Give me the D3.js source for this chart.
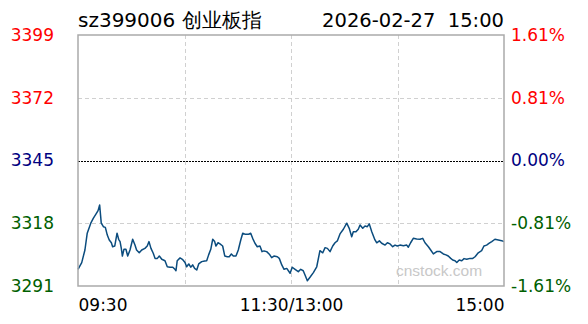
<!DOCTYPE html>
<html>
<head>
<meta charset="utf-8">
<script src="https://cdn.jsdelivr.net/npm/d3@7/dist/d3.min.js"></script>
<style>
  body { margin: 0; background: #fff; }
  svg { display: block; }
</style>
</head>
<body>
<svg width="588" height="324"></svg>
<script>
// sz399006 intraday, prev close 3345
const preClose = 3345;
const titleText = "sz399006 创业板指";
const dateText = "2026-02-27  15:00";

// levels in % of prev close, top to bottom
const pctLevels = [1.61, 0.805, 0, -0.805, -1.61];
const priceLabels = ["3399", "3372", "3345", "3318", "3291"];
const pctLabels = ["1.61%", "0.81%", "0.00%", "-0.81%", "-1.61%"];

const timeTickMins = [0, 120, 240];
const timeLabels = ["09:30", "11:30/13:00", "15:00"];
const gridMins = [60, 120, 180];

// minutes after open (lunch break removed) and index value
const mins = [0, 2.1, 3.9, 5.2, 7.2, 8.6, 10.1, 11.3, 12.2, 13.1, 14.3, 15.4, 16.5, 17.6, 18.8, 19.5, 20.7, 22.0, 22.9, 23.7,
  24.4, 25.0, 25.9, 27.0, 28.0, 29.3, 30.8, 32.1, 33.0, 34.5, 35.9, 37.7, 39.0, 40.0, 41.1, 42.4, 43.4, 44.7, 45.8, 47.2,
  49.0, 50.3, 51.8, 53.4, 54.6, 55.2, 55.9, 57.5, 58.8, 60.3, 61.2, 62.4, 63.5, 64.6, 65.7, 66.9, 68.0, 69.7, 71.4, 72.5,
  73.6, 74.8, 75.9, 77.0, 77.7, 78.9, 80.0, 81.5, 82.7, 84.1, 85.2, 86.4, 87.5, 89.0, 90.3, 91.7, 92.8, 94.3, 95.9, 97.3,
  98.4, 99.7, 101.0, 102.5, 103.7, 104.8, 106.3, 107.8, 109.1, 110.4, 112.3, 113.4, 114.8, 116.1, 117.6,
  119.5, 120.7, 122.3, 124.1, 125.5, 126.9, 127.9, 129.2, 130.7, 132.6, 134.5, 136.3, 137.9, 139.2, 140.5, 142.0,
  143.5, 144.8, 146.1, 147.6, 149.5, 151.4, 152.8, 154.2, 155.1, 156.6, 157.9, 158.9, 160.4, 161.7, 163.0, 164.1,
  165.5, 167.3, 168.3, 169.8, 171.1, 173.0, 174.3, 175.8, 177.3, 178.6, 179.9, 181.4, 183.3, 185.2, 186.1, 187.4,
  188.9, 190.8, 192.7, 194.2, 195.5, 197.4, 198.7, 200.2, 202.1, 204.0, 205.8, 207.3, 208.6, 210.0, 211.1, 212.4,
  213.4, 214.8, 216.2, 217.5, 219.0, 220.9, 222.4, 223.7, 225.5, 227.4, 228.7, 230.2, 231.7, 233.1, 234.9, 236.8,
  238.7, 240];
const prices = [3298.3, 3301.2, 3306.6, 3313.8, 3318.1, 3320.2, 3322.0, 3323.5, 3325.9, 3318.1, 3316.6, 3316.3, 3313.0,
  3310.9, 3309.7, 3308.0, 3308.3, 3313.8, 3311.2, 3310.2, 3307.3, 3304.0, 3306.9, 3306.9, 3304.0, 3306.6, 3311.2,
  3308.7, 3306.6, 3305.4, 3306.6, 3307.3, 3308.3, 3310.2, 3307.3, 3305.2, 3303.0, 3303.0, 3304.0, 3302.6, 3302.0,
  3299.4, 3299.2, 3299.2, 3298.3, 3297.7, 3302.0, 3303.2, 3302.6, 3301.2, 3299.4, 3300.6, 3299.2, 3300.2, 3298.7,
  3298.0, 3300.6, 3301.6, 3301.9, 3302.0, 3304.5, 3306.9, 3311.2, 3310.2, 3308.3, 3309.7, 3309.2, 3308.3, 3304.0,
  3303.7, 3303.7, 3304.9, 3304.0, 3304.0, 3306.6, 3310.9, 3313.8, 3313.3, 3313.3, 3313.8, 3311.6, 3309.5, 3308.0,
  3308.3, 3305.9, 3306.2, 3305.9, 3304.8, 3303.3, 3304.0, 3303.7, 3303.0, 3300.2, 3298.3, 3298.7,
  3296.6, 3299.2, 3298.3, 3297.3, 3298.3, 3297.7, 3295.9, 3293.4, 3294.9, 3296.9, 3299.4, 3306.3, 3305.4, 3307.6,
  3307.3, 3305.9, 3308.3, 3309.7, 3310.5, 3313.5, 3315.5, 3318.1, 3315.9, 3312.3, 3314.4, 3314.4, 3315.5, 3317.3,
  3315.9, 3316.9, 3316.6, 3317.8, 3314.4, 3310.9, 3309.7, 3310.5, 3309.5, 3308.7, 3309.7, 3309.2, 3308.0, 3308.7,
  3308.3, 3308.7, 3308.4, 3308.7, 3307.8, 3309.7, 3311.6, 3311.3, 3311.2, 3311.6, 3309.7, 3308.0, 3306.6, 3304.9,
  3305.9, 3305.9, 3304.9, 3304.5, 3304.0, 3303.0, 3302.3, 3302.0, 3301.2, 3302.3, 3302.0, 3302.9, 3302.6, 3303.0,
  3303.0, 3303.7, 3305.4, 3306.3, 3308.3, 3308.7, 3309.5, 3310.2, 3311.2, 3310.9, 3310.6, 3310.2];

const plotLeft = 78, plotRight = 504, plotTop = 35, plotBottom = 286;
const font = "DejaVu Sans, Verdana, sans-serif";

const svg = d3.select("svg");

const x = d3.scaleLinear().domain([0, 240]).range([plotLeft, plotRight]);
const y = d3.scaleLinear()
  .domain([preClose * (1 - 0.0161), preClose * (1 + 0.0161)])
  .range([plotBottom, plotTop]);

const levelPrice = p => preClose * (1 + p / 100);
const levelColor = p => p > 0 ? "#ff0000" : (p < 0 ? "#006000" : "#000080");

// grid
svg.append("g")
  .selectAll("line")
  .data(gridMins)
  .enter().append("line")
  .attr("x1", d => Math.round(x(d)) + 0.5)
  .attr("x2", d => Math.round(x(d)) + 0.5)
  .attr("y1", plotTop).attr("y2", plotBottom)
  .attr("stroke", "#d0d0d0")
  .attr("stroke-dasharray", "4,3");

svg.append("g")
  .selectAll("line")
  .data(pctLevels.filter(p => p !== 0 && Math.abs(p) < 1.6))
  .enter().append("line")
  .attr("x1", plotLeft).attr("x2", plotRight)
  .attr("y1", d => Math.round(y(levelPrice(d))) + 0.5)
  .attr("y2", d => Math.round(y(levelPrice(d))) + 0.5)
  .attr("stroke", "#d0d0d0")
  .attr("stroke-dasharray", "4,3");

// prev close line
svg.append("line")
  .attr("x1", plotLeft).attr("x2", plotRight)
  .attr("y1", Math.round(y(preClose)) + 0.5)
  .attr("y2", Math.round(y(preClose)) + 0.5)
  .attr("stroke", "#000")
  .attr("stroke-dasharray", "2,1");

// watermark
svg.append("text")
  .attr("x", 396).attr("y", 276)
  .attr("font-family", "Liberation Sans, Arial, sans-serif")
  .attr("font-size", 15.5)
  .attr("fill", "#c8c8c8")
  .text("cnstock.com");

// price line
const pts = mins.map((m, i) => [m, prices[i]]);
const line = d3.line().x(d => x(d[0])).y(d => y(d[1]));
svg.append("path")
  .datum(pts)
  .attr("d", line)
  .attr("fill", "none")
  .attr("stroke", "#0b4c7e")
  .attr("stroke-width", 1.5)
  .attr("stroke-linejoin", "round");

// frame
svg.append("rect")
  .attr("x", plotLeft).attr("y", plotTop)
  .attr("width", plotRight - plotLeft).attr("height", plotBottom - plotTop)
  .attr("fill", "none")
  .attr("stroke", "#aaa")
  .attr("stroke-width", 1.5);

// axes
const leftAxis = d3.axisLeft(y)
  .tickValues(pctLevels.map(levelPrice))
  .tickFormat((d, i) => priceLabels[i])
  .tickSize(0).tickPadding(24);
const gl = svg.append("g").attr("transform", "translate(" + plotLeft + ",0)").call(leftAxis);

const rightAxis = d3.axisRight(y)
  .tickValues(pctLevels.map(levelPrice))
  .tickFormat((d, i) => pctLabels[i])
  .tickSize(0).tickPadding(7);
const gr = svg.append("g").attr("transform", "translate(" + plotRight + ",0)").call(rightAxis);

[gl, gr].forEach(g => {
  g.select(".domain").remove();
  g.attr("font-family", font).attr("font-size", 17);
  g.selectAll(".tick text").attr("fill", (d, i) => levelColor(pctLevels[i]));
});

const bottomAxis = d3.axisBottom(x)
  .tickValues(timeTickMins)
  .tickFormat((d, i) => timeLabels[i])
  .tickSize(0).tickPadding(13);
const gb = svg.append("g").attr("transform", "translate(0," + plotBottom + ")").call(bottomAxis);
gb.select(".domain").remove();
gb.attr("font-family", font).attr("font-size", 17);
gb.selectAll(".tick text")
  .attr("fill", "#000")
  .attr("text-anchor", (d, i) => i === 0 ? "start" : (i === timeLabels.length - 1 ? "end" : "middle"));

// header
svg.append("text")
  .attr("x", plotLeft).attr("y", 27)
  .attr("font-family", font).attr("font-size", 20)
  .text(titleText);
svg.append("text")
  .attr("x", plotRight).attr("y", 27)
  .attr("text-anchor", "end")
  .attr("font-family", font).attr("font-size", 19.5)
  .style("white-space", "pre")
  .text(dateText);
</script>
</body>
</html>
